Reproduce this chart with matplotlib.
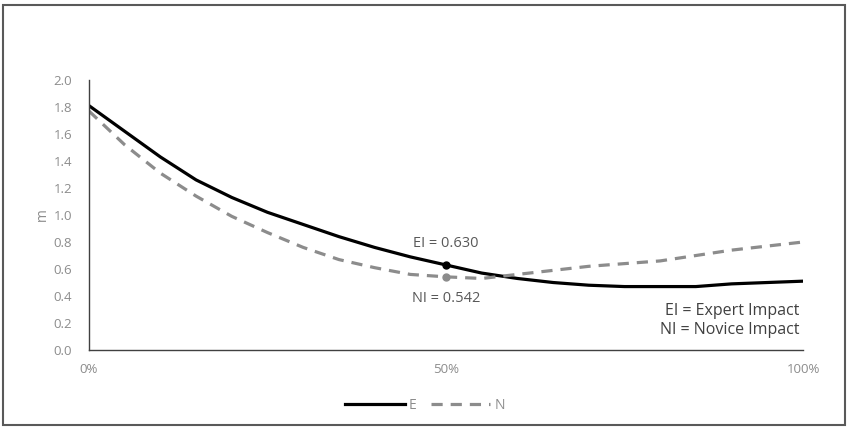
import matplotlib.pyplot as plt
from matplotlib.patches import Rectangle
from matplotlib.ticker import PercentFormatter

plt.rcParams["font.family"] = ["Open Sans", "DejaVu Sans"]

# x position in % of the way, 5% steps
x_pct = [0, 5, 10, 15, 20, 25, 30, 35, 40, 45, 50,
         55, 60, 65, 70, 75, 80, 85, 90, 95, 100]
e_vals = [1.81, 1.62, 1.43, 1.26, 1.13, 1.02, 0.93, 0.84, 0.76, 0.69, 0.63,
          0.57, 0.53, 0.50, 0.48, 0.47, 0.47, 0.47, 0.49, 0.50, 0.51]
n_vals = [1.77, 1.52, 1.31, 1.14, 0.99, 0.87, 0.76, 0.67, 0.61, 0.56, 0.542,
          0.53, 0.56, 0.59, 0.62, 0.64, 0.66, 0.70, 0.74, 0.77, 0.80]
ei_value = 0.630
ni_value = 0.542
mid_x = 50

fig = plt.figure(figsize=(8.5, 4.29), dpi=100)
ax = fig.add_axes([0.1047, 0.1841, 0.84, 0.6294])

ax.plot(x_pct, e_vals, color="black", lw=2.3, label="E", solid_joinstyle="round")
ax.plot(x_pct, n_vals, color="#8c8c8c", lw=2.3, ls=(0, (3.5, 2.5)), label="N")
ax.plot([mid_x], [ei_value], "o", color="black", ms=5)
ax.plot([mid_x], [ni_value], "o", color="#8c8c8c", ms=5)

txt_color = "#595959"
ax.text(mid_x, ei_value + 0.16, f"EI = {ei_value:.3f}", ha="center", va="center",
        fontsize=10.5, color=txt_color)
ax.text(mid_x, ni_value - 0.157, f"NI = {ni_value:.3f}", ha="center", va="center",
        fontsize=10.5, color=txt_color)
ax.text(0.995, 0.11, "EI = Expert Impact\nNI = Novice Impact", transform=ax.transAxes,
        ha="right", va="center", fontsize=11.5, color="#404040", linespacing=1.25)

ax.set_xlim(0, 100)
ax.set_ylim(0, 2.0)
ax.set_xticks([0, 50, 100])
ax.xaxis.set_major_formatter(PercentFormatter(decimals=0))
ax.set_yticks([i / 10 for i in range(0, 21, 2)])
ax.yaxis.set_major_formatter(lambda v, p: f"{v:.1f}")
ax.tick_params(length=0, labelsize=9.5, colors="#8c8c8c", pad=12)
ax.tick_params(axis="x", pad=9)
ax.set_ylabel("m", fontsize=10, color="#8c8c8c", labelpad=3)

for side in ["top", "right"]:
    ax.spines[side].set_visible(False)
for side in ["left", "bottom"]:
    ax.spines[side].set_color("#404040")
    ax.spines[side].set_linewidth(1.0)

fig.legend(loc="center", bbox_to_anchor=(0.5, 0.055), ncol=2, frameon=False,
           fontsize=10, labelcolor="#8c8c8c", handlelength=4.3, handletextpad=0.3,
           columnspacing=1.0)

fig.patches.append(Rectangle((0.004, 0.01), 0.99, 0.978, transform=fig.transFigure,
                             fill=False, edgecolor="#595959", lw=1.5))

fig.savefig("out.png", dpi=100)
